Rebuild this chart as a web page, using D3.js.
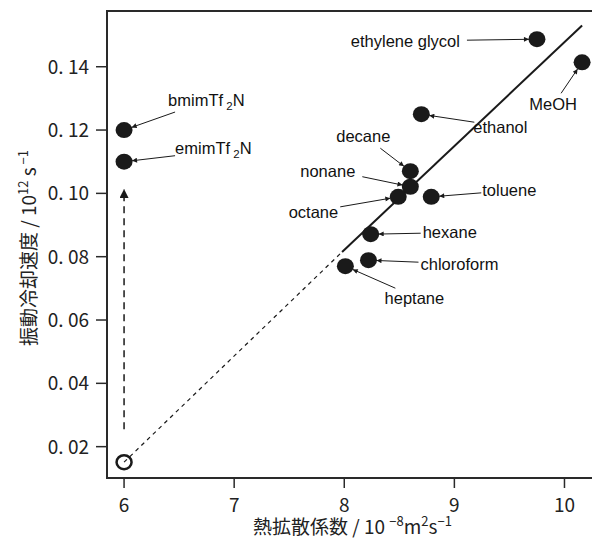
<!DOCTYPE html>
<html>
<head>
<meta charset="utf-8">
<script src="https://cdn.jsdelivr.net/npm/d3@7"></script>
<style>
  body { margin: 0; background: #fff; }
  svg { display: block; }
  .tick-label { font-family: "Noto Sans CJK JP", sans-serif; font-size: 19px; fill: #222; }
  .axis-title { font-family: "Noto Sans CJK JP", sans-serif; font-size: 19px; fill: #222; }
  .note { font-family: "Liberation Sans", Arial, sans-serif; font-size: 16.5px; fill: #111; }
</style>
</head>
<body>
<svg id="chart" width="592" height="540"></svg>
<script>
// Solvents: thermal diffusivity (10^-8 m^2/s) vs vibrational cooling rate (10^12 s^-1)
var solvents = ['bmimTf2N', 'emimTf2N', 'ethylene glycol', 'MeOH', 'ethanol', 'decane',
  'nonane', 'octane', 'toluene', 'hexane', 'chloroform', 'heptane'];
var diffusivity = [6.0, 6.0, 9.75, 10.16, 8.70, 8.60, 8.60, 8.49, 8.79, 8.24, 8.22, 8.01];
var coolingRate = [0.120, 0.110, 0.1487, 0.1414, 0.125, 0.107, 0.1021, 0.0989, 0.0989, 0.0871, 0.0789, 0.0770];

// open circle (extrapolated point) and fitted line
var openPoint = [6.0, 0.0151];
var fitX = [6.0, 7.98, 10.16];
var fitY = [0.0151, 0.0815, 0.1530];

// vertical dashed arrow from the open point to the ionic liquids
var arrowY = [0.0255, 0.1014];

var xTicks = [6, 7, 8, 9, 10];
var yTicks = [0.02, 0.04, 0.06, 0.08, 0.10, 0.12, 0.14];
var yTickLabels = ['0. 02', '0. 04', '0. 06', '0. 08', '0. 10', '0. 12', '0. 14'];

// Label placement, pixel offsets from each point: text (tx, ty) and arrow start (ax, ay)
var labelLayout = {
  'bmimTf2N':        { tx: 44,  ty: -30, anchor: 'start',  ax: 51,  ay: -18 },
  'emimTf2N':        { tx: 51,  ty: -14, anchor: 'start',  ax: 51,  ay: -6 },
  'ethylene glycol': { tx: -77, ty: 2,   anchor: 'end',    ax: -70, ay: 1 },
  'MeOH':            { tx: -29, ty: 42,  anchor: 'middle', ax: -21, ay: 31 },
  'ethanol':         { tx: 52,  ty: 13,  anchor: 'start',  ax: 53,  ay: 8 },
  'decane':          { tx: -47, ty: -35, anchor: 'middle', ax: -30, ay: -23 },
  'nonane':          { tx: -55, ty: -16, anchor: 'end',    ax: -48, ay: -10 },
  'octane':          { tx: -60, ty: 15,  anchor: 'end',    ax: -58, ay: 10 },
  'toluene':         { tx: 51,  ty: -7,  anchor: 'start',  ax: 50,  ay: -4 },
  'hexane':          { tx: 52,  ty: -2,  anchor: 'start',  ax: 50,  ay: -1 },
  'chloroform':      { tx: 52,  ty: 4,   anchor: 'start',  ax: 50,  ay: 2 },
  'heptane':         { tx: 69,  ty: 32,  anchor: 'middle', ax: 50,  ay: 22 }
};

var svg = d3.select('#chart');
var plotLeft = 107, plotRight = 592, plotTop = 11, plotBottom = 478;

var x = d3.scaleLinear().domain([5.845, 10.25]).range([plotLeft, plotRight]);
var y = d3.scaleLinear().domain([0.0101, 0.1576]).range([plotBottom, plotTop]);

var ink = '#1a1a1a';

// arrowhead markers
var defs = svg.append('defs');
defs.append('marker')
    .attr('id', 'head')
    .attr('viewBox', '0 -5 10 10')
    .attr('refX', 10).attr('refY', 0)
    .attr('markerWidth', 7).attr('markerHeight', 5)
    .attr('markerUnits', 'userSpaceOnUse')
    .attr('orient', 'auto')
  .append('path')
    .attr('d', 'M0,-5L10,0L0,5Z')
    .attr('fill', ink);
defs.append('marker')
    .attr('id', 'bighead')
    .attr('viewBox', '0 -5 10 10')
    .attr('refX', 10).attr('refY', 0)
    .attr('markerWidth', 14).attr('markerHeight', 9)
    .attr('markerUnits', 'userSpaceOnUse')
    .attr('orient', 'auto')
  .append('path')
    .attr('d', 'M0,-5L10,0L0,5Z')
    .attr('fill', ink);

// frame (right side runs off the picture)
svg.append('rect')
    .attr('x', plotLeft).attr('y', plotTop)
    .attr('width', plotRight - plotLeft + 4).attr('height', plotBottom - plotTop)
    .attr('fill', 'none')
    .attr('stroke', '#2a2a2a')
    .attr('stroke-width', 2);

// x ticks
svg.selectAll('.xtick')
  .data(xTicks)
  .enter().append('line')
    .attr('x1', function(d) { return x(d); })
    .attr('x2', function(d) { return x(d); })
    .attr('y1', plotBottom).attr('y2', plotBottom + 10)
    .attr('stroke', '#2a2a2a').attr('stroke-width', 1.5);

svg.selectAll('.xlabel')
  .data(xTicks)
  .enter().append('text')
    .attr('class', 'tick-label')
    .attr('text-anchor', 'middle')
    .attr('x', function(d) { return x(d); })
    .attr('y', 512)
    .text(function(d) { return d; });

// y ticks
svg.selectAll('.ytick')
  .data(yTicks)
  .enter().append('line')
    .attr('x1', plotLeft - 11).attr('x2', plotLeft)
    .attr('y1', function(d) { return y(d); })
    .attr('y2', function(d) { return y(d); })
    .attr('stroke', '#2a2a2a').attr('stroke-width', 1.5);

svg.selectAll('.ylabel')
  .data(yTicks)
  .enter().append('text')
    .attr('class', 'tick-label')
    .attr('text-anchor', 'end')
    .attr('x', 89)
    .attr('y', function(d) { return y(d) + 7; })
    .text(function(d, i) { return yTickLabels[i]; });

// axis titles
var xt = svg.append('text')
    .attr('class', 'axis-title')
    .attr('x', 253).attr('y', 534);
xt.append('tspan').text('熱拡散係数 / 10 ');
xt.append('tspan').attr('dy', -8).attr('font-size', 13).text('−8');
xt.append('tspan').attr('dy', 8).text('m');
xt.append('tspan').attr('dy', -8).attr('font-size', 13).text('2');
xt.append('tspan').attr('dy', 8).text('s');
xt.append('tspan').attr('dy', -8).attr('font-size', 13).text('−1');

var yt = svg.append('text')
    .attr('class', 'axis-title')
    .attr('transform', 'translate(36,346) rotate(-90)');
yt.append('tspan').text('振動冷却速度 / 10');
yt.append('tspan').attr('dy', -8).attr('font-size', 13).text('12');
yt.append('tspan').attr('dy', 8).text(' s');
yt.append('tspan').attr('dy', -8).attr('font-size', 13).text(' −1');

// fitted line: dashed extrapolation, then solid
svg.append('line')
    .attr('x1', x(fitX[0])).attr('y1', y(fitY[0]))
    .attr('x2', x(fitX[1])).attr('y2', y(fitY[1]))
    .attr('stroke', ink).attr('stroke-width', 1.2)
    .attr('stroke-dasharray', '4,4');
svg.append('line')
    .attr('x1', x(fitX[1])).attr('y1', y(fitY[1]))
    .attr('x2', x(fitX[2])).attr('y2', y(fitY[2]))
    .attr('stroke', ink).attr('stroke-width', 2);

// vertical dashed arrow
svg.append('line')
    .attr('x1', x(openPoint[0])).attr('y1', y(arrowY[0]))
    .attr('x2', x(openPoint[0])).attr('y2', y(arrowY[1]))
    .attr('stroke', ink).attr('stroke-width', 1.5)
    .attr('stroke-dasharray', '7,5')
    .attr('marker-end', 'url(#bighead)');

// open circle
svg.append('ellipse')
    .attr('cx', x(openPoint[0])).attr('cy', y(openPoint[1]))
    .attr('rx', 7.5).attr('ry', 7)
    .attr('fill', 'none')
    .attr('stroke', ink).attr('stroke-width', 2.5);

// data points
var points = solvents.map(function(name, i) {
  return { name: name, px: x(diffusivity[i]), py: y(coolingRate[i]) };
});

svg.selectAll('.dot')
  .data(points)
  .enter().append('ellipse')
    .attr('cx', function(d) { return d.px; })
    .attr('cy', function(d) { return d.py; })
    .attr('rx', 8.5).attr('ry', 8)
    .attr('fill', ink);

// annotation arrows, ending at the edge of the dot
svg.selectAll('.pointer')
  .data(points)
  .enter().append('line')
    .attr('x1', function(d) { return d.px + labelLayout[d.name].ax; })
    .attr('y1', function(d) { return d.py + labelLayout[d.name].ay; })
    .attr('x2', function(d) {
      var l = labelLayout[d.name], r = Math.hypot(l.ax, l.ay);
      return d.px + l.ax * 8 / r;
    })
    .attr('y2', function(d) {
      var l = labelLayout[d.name], r = Math.hypot(l.ax, l.ay);
      return d.py + l.ay * 8 / r;
    })
    .attr('stroke', ink).attr('stroke-width', 1)
    .attr('marker-end', 'url(#head)');

// annotation labels
var notes = svg.selectAll('.note')
  .data(points)
  .enter().append('text')
    .attr('class', 'note')
    .attr('text-anchor', function(d) { return labelLayout[d.name].anchor; })
    .attr('x', function(d) { return d.px + labelLayout[d.name].tx; })
    .attr('y', function(d) { return d.py + labelLayout[d.name].ty + 6; });

notes.each(function(d) {
  var t = d3.select(this);
  var m = d.name.match(/^(.*Tf)2(N)$/);
  if (m) {
    t.append('tspan').text(m[1]);
    t.append('tspan').attr('dy', 4).attr('font-size', 11.5).text(' 2');
    t.append('tspan').attr('dy', -4).text(m[2]);
  } else {
    t.text(d.name);
  }
});
</script>
</body>
</html>
